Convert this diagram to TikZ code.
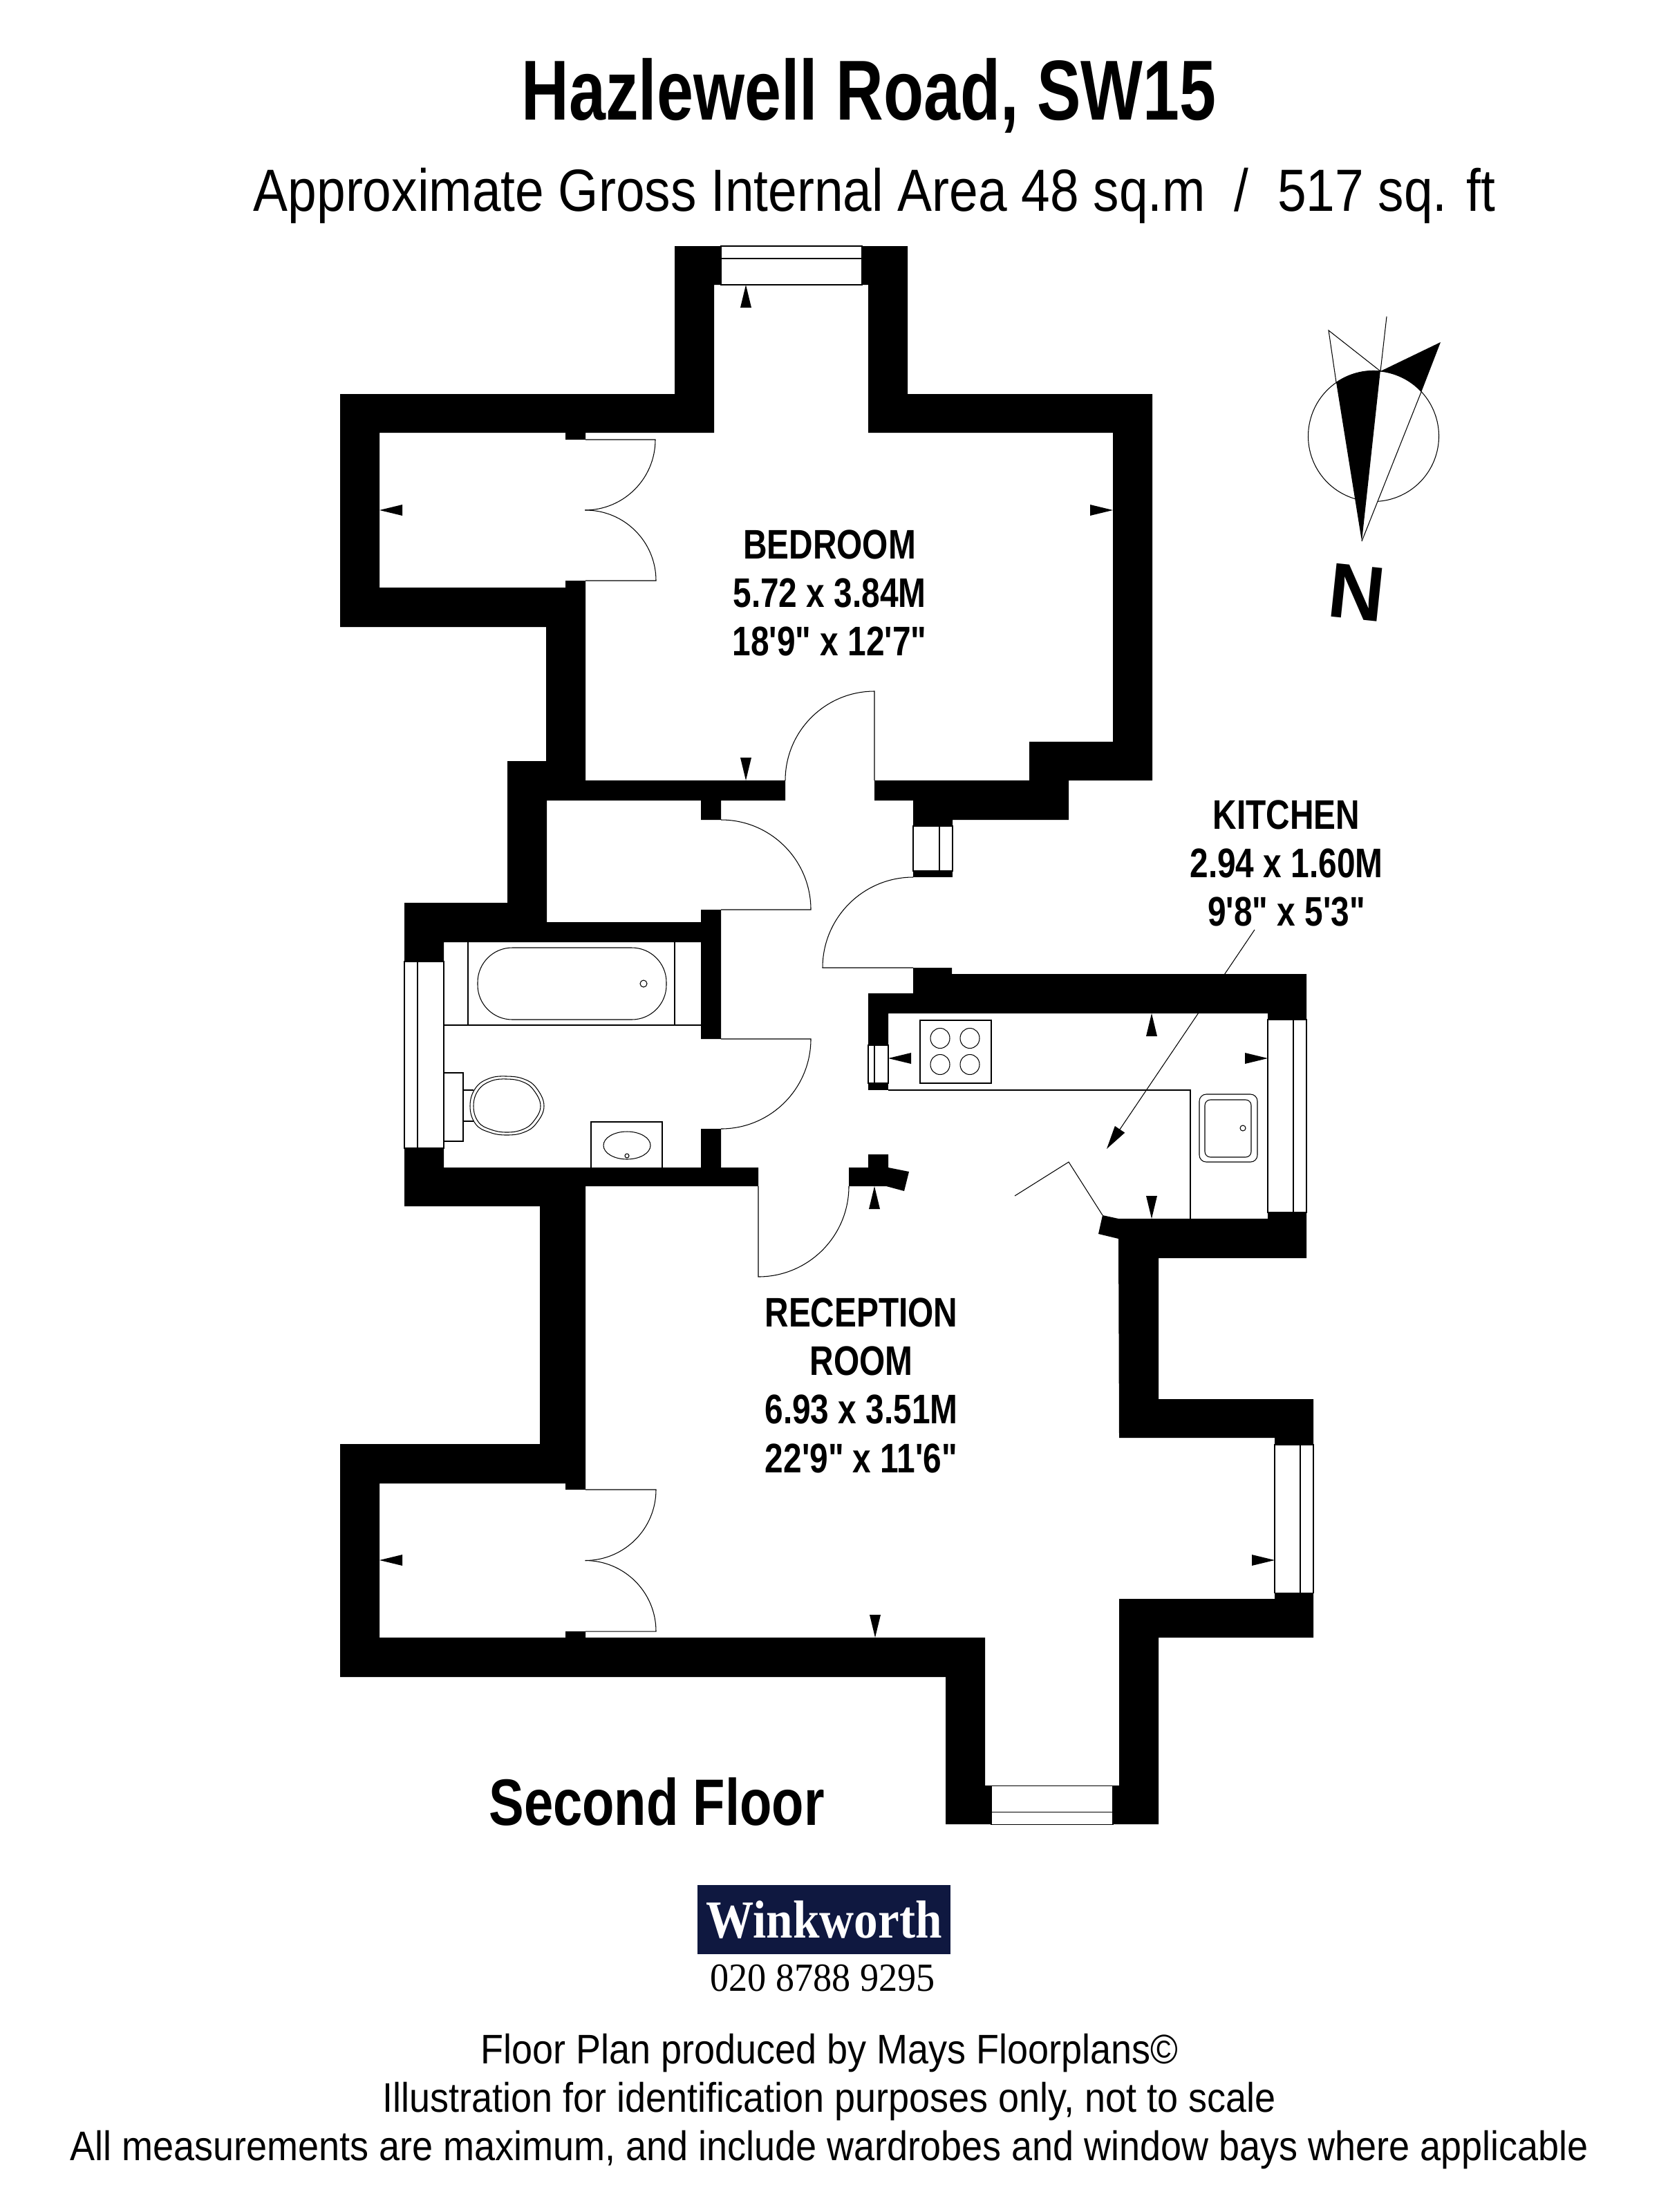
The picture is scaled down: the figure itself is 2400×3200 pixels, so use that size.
\documentclass[tikz,border=0pt]{standalone}
\usepackage{fontspec}
\usetikzlibrary{arrows.meta}
\setmainfont{Liberation Sans}
\newfontfamily\narrowfont[FakeStretch=0.80]{Liberation Sans}
\newfontfamily\titlefont[FakeStretch=0.773]{Liberation Sans}
\newfontfamily\areafont[FakeStretch=0.869]{Liberation Sans}
\newfontfamily\notefont[FakeStretch=0.903]{Liberation Sans}
\newfontfamily\agentfont[FakeStretch=0.895]{Liberation Serif}
\newfontfamily\phonefont[FakeStretch=0.94]{Liberation Serif}
\definecolor{navy}{HTML}{0F1840}
\tikzset{
  walls/.style={fill=black},
  thinline/.style={line width=0.3pt},
  glazing/.style={draw=black, line width=0.3pt, fill=white},
  roomlabel/.style={font=\narrowfont\bfseries\fontsize{17}{20}\selectfont, align=center, inner sep=0pt},
}
\begin{document}
\begin{tikzpicture}[x=0.01cm, y=-0.01cm]
		\useasboundingbox (0,0) rectangle (2400,3200);
		\fill[white] (0,0) rectangle (2400,3200);

		% Titles
		\node[font=\titlefont\bfseries\fontsize{35}{40}\selectfont, inner sep=0pt] (title) at (1257,138) {Hazlewell Road, SW15};
		\node[font=\areafont\fontsize{24.5}{28}\selectfont, inner sep=0pt] (area) at (1265,283) {Approximate Gross Internal Area 48 sq.m\ \ /\ \ 517 sq. ft};

		% Walls, upper part
		\fill[walls] (976,356) -- (1043,356) -- (1043,412) -- (1033,412) -- (1033,626) -- (847,626) -- (847,636) -- (818,636) -- (818,626) -- (549,626) -- (549,850) -- (818,850) -- (818,840) -- (847,840) -- (847,1129) -- (1136,1129) -- (1136,1158) -- (1043,1158) -- (1043,1186) -- (1014,1186) -- (1014,1158) -- (791,1158) -- (791,1334) -- (1014,1334) -- (1014,1316) -- (1043,1316) -- (1043,1503) -- (1014,1503) -- (1014,1363) -- (642,1363) -- (642,1391) -- (585,1391) -- (585,1306) -- (734,1306) -- (734,1101) -- (790,1101) -- (790,907) -- (492,907) -- (492,570) -- (976,570) -- cycle;
		\fill[walls] (1247,356) -- (1313,356) -- (1313,570) -- (1667,570) -- (1667,1129) -- (1546,1129) -- (1546,1186) -- (1378,1186) -- (1378,1195) -- (1321,1195) -- (1321,1158) -- (1265,1158) -- (1265,1129) -- (1489,1129) -- (1489,1073) -- (1610,1073) -- (1610,626) -- (1256,626) -- (1256,412) -- (1247,412) -- cycle;
		\fill[walls] (1321,1260) rectangle (1378,1269);

		% Walls, kitchen
		\fill[walls] (1321,1400) -- (1377,1400) -- (1377,1409) -- (1890,1409) -- (1890,1475) -- (1834,1475) -- (1834,1466) -- (1285,1466) -- (1285,1512) -- (1256,1512) -- (1256,1437) -- (1321,1437) -- cycle;
		\fill[walls] (1256,1567) rectangle (1285,1577);
		\fill[walls] (1228,1689) -- (1256,1689) -- (1256,1670) -- (1285,1670) -- (1285,1689) -- (1315,1695) -- (1308,1723) -- (1282,1716) -- (1228,1716) -- cycle;

		% Walls, lower part
		\fill[walls] (585,1661) -- (642,1661) -- (642,1689) -- (1014,1689) -- (1014,1633) -- (1043,1633) -- (1043,1689) -- (1097,1689) -- (1097,1716) -- (847,1716) -- (847,2155) -- (818,2155) -- (818,2146) -- (549,2146) -- (549,2369) -- (818,2369) -- (818,2360) -- (847,2360) -- (847,2369) -- (1425,2369) -- (1425,2583) -- (1434,2583) -- (1434,2639) -- (1368,2639) -- (1368,2426) -- (492,2426) -- (492,2089) -- (781,2089) -- (781,1745) -- (585,1745) -- cycle;
		\fill[walls] (1610,2639) -- (1676,2639) -- (1676,2369) -- (1900,2369) -- (1900,2304) -- (1844,2304) -- (1844,2313) -- (1619,2313) -- (1619,2583) -- (1610,2583) -- cycle;
		\fill[walls] (1834,1763) -- (1618,1763) -- (1595,1758) -- (1589,1785) -- (1618,1792) -- (1619,2080) -- (1844,2080) -- (1844,2090) -- (1900,2090) -- (1900,2024) -- (1676,2024) -- (1676,1820) -- (1890,1820) -- (1890,1754) -- (1834,1754) -- cycle;

		% Windows
		\draw[glazing] (1043,356) rectangle (1247,412);
		\draw[thinline] (1043,374) -- (1247,374);
		\draw[glazing] (585,1391) rectangle (642,1661);
		\draw[thinline] (604,1391) -- (604,1661);
		\draw[glazing] (1321,1195) rectangle (1378,1260);
		\draw[thinline] (1359,1195) -- (1359,1260);
		\draw[glazing] (1256,1512) rectangle (1285,1567);
		\draw[thinline] (1265,1512) -- (1265,1567);
		\draw[glazing] (1834,1475) rectangle (1890,1754);
		\draw[thinline] (1871,1475) -- (1871,1754);
		\draw[glazing] (1844,2090) rectangle (1900,2304);
		\draw[thinline] (1881,2090) -- (1881,2304);
		\draw[glazing] (1434,2583) rectangle (1610,2639);
		\draw[thinline] (1434,2621) -- (1610,2621);

		% Doors
		\draw[thinline] (847,636) -- (948,636) arc[start angle=0, end angle=90, radius=102];
		\draw[thinline] (847,840) -- (949,840) arc[start angle=0, end angle=-90, radius=102];
		\draw[thinline] (1265,1129) -- (1265,1000) arc[start angle=-90, end angle=-180, radius=129];
		\draw[thinline] (1043,1316) -- (1173,1316) arc[start angle=0, end angle=-90, radius=130];
		\draw[thinline] (1043,1503) -- (1173,1503) arc[start angle=0, end angle=90, radius=130];
		\draw[thinline] (1097,1716) -- (1097,1847) arc[start angle=90, end angle=0, radius=131];
		\draw[thinline] (1321,1400) -- (1190,1400) arc[start angle=180, end angle=270, radius=131];
		\draw[thinline] (847,2155) -- (949,2155) arc[start angle=0, end angle=90, radius=102.5];
		\draw[thinline] (847,2360) -- (949,2360) arc[start angle=0, end angle=-90, radius=102.5];
		\draw[thinline] (1468,1730) -- (1546,1681) -- (1595,1758);

		% Bathroom
		\draw[thinline] (642,1483) -- (1014,1483);
		\draw[thinline] (677,1363) -- (677,1483);
		\draw[thinline] (976,1363) -- (976,1483);
		\draw[thinline, rounded corners=0.5cm] (691,1371) rectangle (964,1475);
		\draw[thinline] (931,1423) circle (5);
		\draw[thinline] (642,1552) rectangle (670,1651);
		\draw[thinline] (670,1577) -- (685,1577);
		\draw[thinline] (670,1622) -- (685,1622);
		\draw[thinline, fill=white] plot[smooth cycle, tension=0.7] coordinates {(680,1600) (688,1574) (708,1560) (733,1557) (758,1561) (776,1574) (787,1600) (776,1625) (758,1638) (733,1642) (708,1638) (688,1626)};
		\draw[thinline] plot[smooth cycle, tension=0.7] coordinates {(685,1600) (692,1577) (710,1564) (733,1561) (756,1565) (772,1577) (782,1600) (772,1622) (756,1634) (733,1638) (710,1634) (692,1623)};
		\draw[thinline] (855,1689) -- (855,1623) -- (958,1623) -- (958,1689);
		\draw[thinline] (907,1657) ellipse (34 and 20);
		\draw[thinline] (907,1672) circle (3);

		% Kitchen fittings
		\draw[thinline] (1285,1577) -- (1722,1577) -- (1722,1763);
		\draw[thinline] (1331,1476) rectangle (1434,1567);
		\foreach \ringx in {1360,1403} {
			\foreach \ringy in {1502,1540} {
				\draw[thinline] (\ringx,\ringy) ellipse (14 and 14.5);
			}
		}
		\draw[thinline, rounded corners=0.1cm] (1735,1583) rectangle (1819,1681);
		\draw[thinline, rounded corners=0.08cm] (1743,1591) rectangle (1810,1674);
		\draw[thinline] (1798,1632) circle (4);

		% Measuring marks
		\foreach \markx/\marky/\markrot in {549/738/0, 1610/738/180, 1079/412/-90, 1079/1129/90, 549/2257/0, 1844/2257/180, 1266/2369/90, 1265/1716/-90, 1285/1531/0, 1834/1531/180, 1666/1466/-90, 1666/1763/90} {
			\fill[shift={(\markx,\marky)}, rotate=\markrot] (0,0) -- (33,8) -- (33,-8) -- cycle;
		}

		% Room labels
		\node[roomlabel] (bedroom) at (1200,858) {BEDROOM\\5.72 x 3.84M\\18'9" x 12'7"};
		\node[roomlabel] (kitchen) at (1861,1249) {KITCHEN\\2.94 x 1.60M\\9'8" x 5'3"};
		\node[roomlabel] (reception) at (1246,2004) {RECEPTION\\ROOM\\6.93 x 3.51M\\22'9" x 11'6"};
		\node[font=\narrowfont\bfseries\fontsize{27}{30}\selectfont, inner sep=0pt] (floor) at (950,2607) {Second Floor};

		% Kitchen pointer
		\coordinate (kitchenstart) at (1815,1345);
		\coordinate (kitchentip) at (1601,1662);
		\draw[thinline, -{Triangle[length=0.34cm, width=0.17cm]}] (kitchenstart) -- (kitchentip);

		% North point
		\coordinate (needle) at (1987,631);
		\draw[thinline] (needle) ++(106.4:94.5) arc[start angle=106.4, end angle=446.3, radius=94.5];
		\fill[black] (1933,553) arc[start angle=-124.7, end angle=-83.9, radius=94.5] -- (1970,783) -- cycle;
		\fill[black] (1997,537) arc[start angle=-83.9, end angle=-42.8, radius=94.5] -- (2084,495) -- cycle;
		\draw[thinline] (1970,783) -- (2056,567);
		\draw[thinline] (2006,458) -- (1997,537) -- (1922,478) -- (1933,553);
		\node[font=\bfseries\fontsize{32}{36}\selectfont, rotate=-6, inner sep=0pt] (north) at (1963,857) {N};

		% Agent
		\node[fill=navy, text=white, font=\agentfont\bfseries\fontsize{22}{26}\selectfont, minimum width=3.65cm, minimum height=1cm, inner sep=0pt] (agent) at (1192,2777) {Winkworth};
		\node[font=\phonefont\fontsize{16.4}{20}\selectfont, inner sep=0pt] (phone) at (1190,2862) {020 8788 9295};

		% Notes
		\node[font=\notefont\fontsize{17}{20}\selectfont, align=center, inner sep=0pt] (notes) at (1200,3040) {Floor Plan produced by Mays Floorplans©\\Illustration for identification purposes only, not to scale\\All measurements are maximum, and include wardrobes and window bays where applicable};
	\end{tikzpicture}
\end{document}
